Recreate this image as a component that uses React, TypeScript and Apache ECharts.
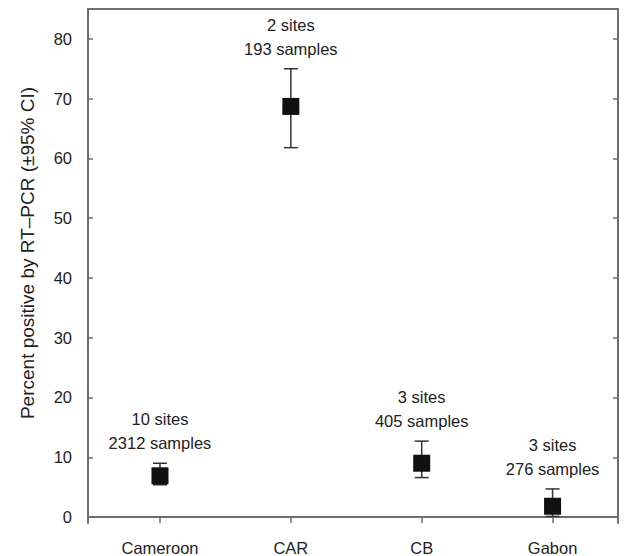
import React, { useEffect, useRef } from "react";
import * as echarts from "echarts";

const categories = ["Cameroon", "CAR", "CB", "Gabon"];
const positions = [1, 2, 3, 4];
const percent = [6.9, 68.7, 9.0, 1.8];
const ciLow = [5.4, 61.8, 6.6, 0.1];
const ciHigh = [9.0, 75.0, 12.7, 4.7];
const sites = [10, 2, 3, 3];
const samples = [2312, 193, 405, 276];
const yTicks = [0, 10, 20, 30, 40, 50, 60, 70, 80];

const FONT = "'Liberation Sans', Arial, Helvetica, sans-serif";
const TEXT = "#222";
const AXIS = "#6e6e6e";

export default function App() {
  const ref = useRef<HTMLDivElement>(null);
  useEffect(() => {
    if (!ref.current) return;
    const chart = echarts.init(ref.current, null, { renderer: "svg" });
    const errData = positions.map((x, i) => [x, ciLow[i], ciHigh[i], sites[i], samples[i]]);
    chart.setOption({
      animation: false,
      backgroundColor: "#fff",
      textStyle: { fontFamily: FONT },
      grid: { left: 88, right: 6, top: 9, bottom: 31 },
      xAxis: [
        {
          type: "value",
          min: 0.45,
          max: 4.5,
          splitLine: { show: false },
          axisLine: { show: true, onZero: true, lineStyle: { color: AXIS, width: 2 } },
          axisTick: { show: true, inside: false, length: 6, customValues: positions, lineStyle: { color: AXIS, width: 1.5 } },
          axisLabel: {
            show: true,
            customValues: positions,
            margin: 16,
            fontSize: 16.5,
            color: TEXT,
            fontFamily: FONT,
            formatter: (v: number) => categories[Math.round(v) - 1] ?? "",
          },
        },
        {
          type: "value",
          position: "top",
          min: 0.45,
          max: 4.5,
          splitLine: { show: false },
          axisLine: { show: true, onZero: false, lineStyle: { color: AXIS, width: 2 } },
          axisTick: { show: false },
          axisLabel: { show: false },
        },
      ],
      yAxis: [
        {
          type: "value",
          min: -1,
          max: 85,
          splitLine: { show: false },
          name: "Percent positive by RT\u2013PCR (\u00b195% CI)",
          nameLocation: "middle",
          nameGap: 51,
          nameTextStyle: { fontSize: 19, color: TEXT, fontFamily: FONT, padding: [0, 0, 0, 26] },
          axisLine: { show: true, onZero: false, lineStyle: { color: AXIS, width: 2 } },
          axisTick: { show: true, inside: true, length: 5, customValues: yTicks, lineStyle: { color: AXIS, width: 1.5 } },
          axisLabel: { show: true, customValues: yTicks, margin: 16, fontSize: 16.5, color: TEXT, fontFamily: FONT },
        },
        {
          type: "value",
          position: "right",
          min: -1,
          max: 85,
          splitLine: { show: false },
          axisLine: { show: true, onZero: false, lineStyle: { color: AXIS, width: 2 } },
          axisTick: { show: true, inside: true, length: 5, customValues: yTicks, lineStyle: { color: AXIS, width: 1.5 } },
          axisLabel: { show: false },
        },
      ],
      series: [
        {
          type: "custom",
          xAxisIndex: 0,
          yAxisIndex: 0,
          clip: false,
          data: errData,
          renderItem: (params: any, api: any) => {
            const x = api.value(0);
            const lo = api.coord([x, api.value(1)]);
            const hi = api.coord([x, api.value(2)]);
            const cap = 7;
            const ls = { stroke: "#333", lineWidth: 1.5 };
            return {
              type: "group",
              children: [
                { type: "line", shape: { x1: lo[0], y1: lo[1], x2: hi[0], y2: hi[1] }, style: ls },
                { type: "line", shape: { x1: lo[0] - cap, y1: lo[1], x2: lo[0] + cap, y2: lo[1] }, style: ls },
                { type: "line", shape: { x1: hi[0] - cap, y1: hi[1], x2: hi[0] + cap, y2: hi[1] }, style: ls },
                {
                  type: "text",
                  x: hi[0],
                  y: hi[1] - 8,
                  style: {
                    text: `${api.value(3)} sites\n${api.value(4)} samples`,
                    fontSize: 16.5,
                    lineHeight: 24,
                    fontFamily: FONT,
                    fill: TEXT,
                    align: "center",
                    verticalAlign: "bottom",
                  },
                },
              ],
            };
          },
        },
        {
          type: "scatter",
          xAxisIndex: 0,
          yAxisIndex: 0,
          symbol: "rect",
          symbolSize: 17,
          itemStyle: { color: "#111", opacity: 1 },
          data: positions.map((x, i) => [x, percent[i]]),
        },
      ],
    });
    return () => chart.dispose();
  }, []);
  return <div ref={ref} style={{ position: "absolute", left: 0, top: 0, width: 624, height: 556 }} />;
}
